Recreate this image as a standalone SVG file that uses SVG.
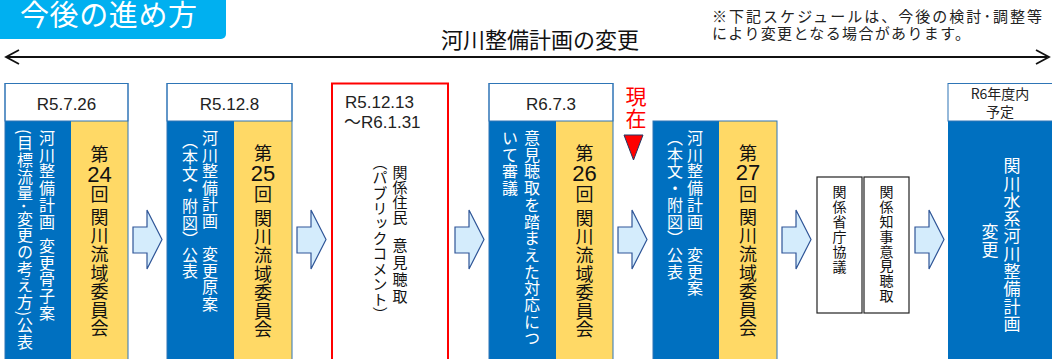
<svg xmlns="http://www.w3.org/2000/svg" width="1052" height="359" viewBox="0 0 1052 359">
<style>
text{font-family:"Noto Sans CJK JP","Noto Sans",sans-serif;}
.lat{font-family:"Liberation Sans","Noto Sans",sans-serif;font-size:17px;fill:#222;text-anchor:middle;}
.vw{writing-mode:vertical-rl;fill:#fff;}
.vb{writing-mode:vertical-rl;fill:#111;}
.blue{fill:#0070c0;}
.yel{fill:#ffd966;}
.hdr{fill:#fff;stroke:#2e75b6;stroke-width:1;}
.frame{fill:none;stroke:#2e75b6;stroke-width:1;}
.yc{fill:#111;text-anchor:middle;}
.num{fill:#111;text-anchor:middle;font-family:"Liberation Sans","Noto Sans",sans-serif;font-size:22px;}
.barrow{fill:#d4ecfc;stroke:#2f5597;stroke-width:1.2;}
.sbox{fill:#fff;stroke:#222;stroke-width:1.2;}
</style>
<rect width="1052" height="359" fill="#fff"/>

<g id="title">
<rect x="-6" y="-8" width="232" height="47" rx="5" fill="#00b0f0"/>
<text x="20" y="26" font-size="29" fill="#fff" textLength="177">今後の進め方</text>
</g>

<g id="note">
<text x="712" y="22" font-size="15" fill="#222" textLength="330">※下記スケジュールは、今後の検討･調整等</text>
<text x="712" y="39" font-size="15" fill="#222" textLength="258">により変更となる場合があります。</text>
</g>

<g id="timeline-label">
<text x="540" y="48" font-size="22" fill="#111" text-anchor="middle">河川整備計画の変更</text>
</g>

<g id="connectors">
<line x1="6" y1="57" x2="1047" y2="57" stroke="#111" stroke-width="2"/>
<polyline points="19,50 6,57 19,64" fill="none" stroke="#111" stroke-width="1.8"/>
<polyline points="1036,50 1049,57 1036,64" fill="none" stroke="#111" stroke-width="1.8"/>
<path class="barrow" d="M133,227 H147 V210 L162,239.5 L147,269 V253 H133 Z"/>
<path class="barrow" d="M297,227 H311 V210 L326,239.5 L311,269 V253 H297 Z"/>
<path class="barrow" d="M455,227 H469 V210 L484,239.5 L469,269 V253 H455 Z"/>
<path class="barrow" d="M618,227 H632 V210 L647,239.5 L632,269 V253 H618 Z"/>
<path class="barrow" d="M782,227 H796 V210 L811,239.5 L796,269 V253 H782 Z"/>
<path class="barrow" d="M915,227 H929 V210 L944,239.5 L929,269 V253 H915 Z"/>
</g>

<g id="node-1">
<rect class="blue" x="5" y="121" width="66" height="245"/>
<rect class="yel" x="71" y="121" width="57" height="245"/>
<rect class="hdr" x="5" y="83.5" width="123" height="37.5"/>
<rect class="frame" x="5" y="83.5" width="123" height="285"/>
<text class="lat" x="66.5" y="110">R5.7.26</text>
<text class="vw" x="47" y="130" font-size="16" letter-spacing="0.7">河川整備計画</text>
<text class="vw" x="47" y="238" font-size="16" letter-spacing="0.7">変更骨子案</text>
<text class="vw" x="25" y="129" font-size="16" letter-spacing="0.7">(目標流量･変更の考え方)公表</text>
<text class="yc" x="99.5" y="161" font-size="18">第</text>
<text class="num" x="99.5" y="182">24</text>
<text class="yc" x="99.5" y="201" font-size="18">回</text>
<text class="vb" x="99.5" y="208" font-size="18" letter-spacing="0.6">関川流域委員会</text>
</g>

<g id="node-2">
<rect class="blue" x="167" y="121" width="67" height="245"/>
<rect class="yel" x="234" y="121" width="58" height="245"/>
<rect class="hdr" x="167" y="83.5" width="125" height="37.5"/>
<rect class="frame" x="167" y="83.5" width="125" height="285"/>
<text class="lat" x="229.5" y="110">R5.12.8</text>
<text class="vw" x="210" y="130" font-size="16" letter-spacing="0.6">河川整備計画　変更原案</text>
<text class="vw" x="190" y="133" font-size="16" letter-spacing="0.3">（本文・附図）公表</text>
<text class="yc" x="263" y="160" font-size="18">第</text>
<text class="num" x="263" y="181">25</text>
<text class="yc" x="263" y="201" font-size="18">回</text>
<text class="vb" x="263" y="209" font-size="18" letter-spacing="0.6">関川流域委員会</text>
</g>

<g id="node-3">
<rect x="332" y="83.5" width="116" height="285" fill="#fff" stroke="#ff0000" stroke-width="2"/>
<text x="345" y="108" font-size="17" fill="#222" style="font-family:'Liberation Sans',sans-serif">R5.12.13</text>
<text x="344" y="128" font-size="17" fill="#222" style="font-family:'Liberation Sans','Noto Sans CJK JP',sans-serif">～R6.1.31</text>
<text class="vb" x="400" y="165" font-size="15">関係住民</text>
<text class="vb" x="400" y="238" font-size="15" letter-spacing="2">意見聴取</text>
<text class="vb" x="380" y="155" font-size="15" letter-spacing="0.2">（パブリックコメント）</text>
</g>

<g id="node-4">
<rect class="blue" x="489" y="121" width="67" height="245"/>
<rect class="yel" x="556" y="121" width="57" height="245"/>
<rect class="hdr" x="489" y="83.5" width="124" height="37.5"/>
<rect class="frame" x="489" y="83.5" width="124" height="285"/>
<text class="lat" x="551" y="110">R6.7.3</text>
<text class="vw" x="532" y="130" font-size="16" letter-spacing="0.7">意見聴取を踏まえた対応につ</text>
<text class="vw" x="510" y="130" font-size="16" letter-spacing="0.7">いて審議</text>
<text class="yc" x="584.5" y="160" font-size="18">第</text>
<text class="num" x="584.5" y="181">26</text>
<text class="yc" x="584.5" y="201" font-size="18">回</text>
<text class="vb" x="584.5" y="209" font-size="18" letter-spacing="0.6">関川流域委員会</text>
</g>

<g id="now-marker">
<text x="636" y="104" font-size="21" fill="#ff0000" text-anchor="middle">現</text>
<text x="636" y="126" font-size="21" fill="#ff0000" text-anchor="middle">在</text>
<polygon points="624,135 643,135 633.5,160" fill="#ff0000" stroke="#203864" stroke-width="1"/>
</g>

<g id="node-5">
<rect class="blue" x="653" y="121" width="66" height="245"/>
<rect class="yel" x="719" y="121" width="58" height="245"/>
<rect class="frame" x="653" y="121" width="124" height="245"/>
<text class="vw" x="695" y="130" font-size="16" letter-spacing="0.7">河川整備計画　変更案</text>
<text class="vw" x="675" y="130" font-size="16" letter-spacing="0.7">（本文・附図）公表</text>
<text class="yc" x="748" y="160" font-size="18">第</text>
<text class="num" x="748" y="180">27</text>
<text class="yc" x="748" y="201" font-size="18">回</text>
<text class="vb" x="748" y="208" font-size="18" letter-spacing="0.6">関川流域委員会</text>
</g>

<g id="node-6">
<rect class="sbox" x="817" y="177" width="45" height="136"/>
<text class="vb" x="839.5" y="185" font-size="14" letter-spacing="1">関係省庁協議</text>
</g>

<g id="node-7">
<rect class="sbox" x="864" y="177" width="45" height="136"/>
<text class="vb" x="886.5" y="185" font-size="14" letter-spacing="0.8">関係知事意見聴取</text>
</g>

<g id="node-8">
<rect class="blue" x="948" y="121" width="110" height="245"/>
<rect class="hdr" x="948" y="83.5" width="110" height="37.5"/>
<text x="1000" y="99" font-size="14" fill="#222" text-anchor="middle">R6年度内</text>
<text x="1000" y="117" font-size="14" fill="#222" text-anchor="middle">予定</text>
<text class="vw" x="1012" y="157" font-size="17" letter-spacing="0.6">関川水系河川整備計画</text>
<text class="vw" x="990" y="223" font-size="17" letter-spacing="0.6">変更</text>
</g>
</svg>
